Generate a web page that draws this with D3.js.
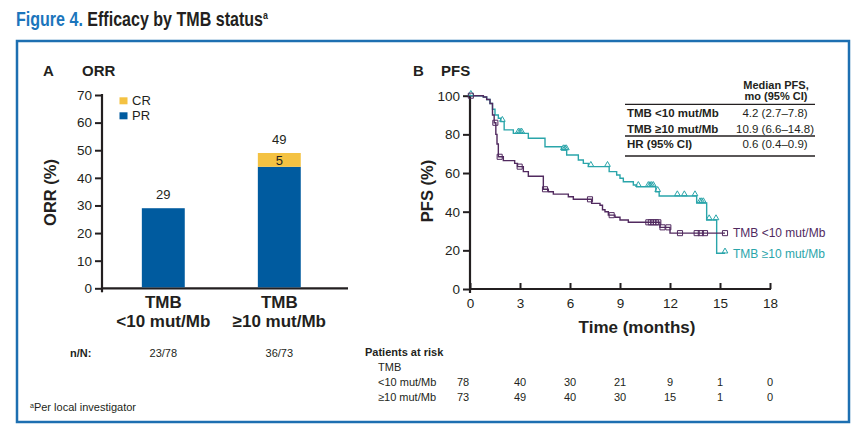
<!DOCTYPE html>
<html><head><meta charset="utf-8">
<script src="https://cdn.jsdelivr.net/npm/d3@7"></script>
<style>
body{margin:0;background:#fff;}
svg{display:block;font-family:"Liberation Sans",Arial,Helvetica,sans-serif;}
</style></head><body>
<svg id="c" width="865" height="442"></svg>
<script>
// ---------- Panel A data ----------
const orrCategories = ["<10 mut/Mb", "\u226510 mut/Mb"];
const orrPR = [29, 44];
const orrCR = [0, 5];
const orrTotals = [29, 49];
const orrNN = ["23/78", "36/73"];
const orrTicks = [0, 10, 20, 30, 40, 50, 60, 70];

// ---------- Panel B data ----------
const pfsTicksX = [0, 3, 6, 9, 12, 15, 18];
const pfsTicksY = [0, 20, 40, 60, 80, 100];
// step points [month, PFS %] : value after each step
const lowSteps = [[0,100],[0.8,99.3],[1.0,98],[1.2,96],[1.35,90],[1.45,86],[1.55,80],[1.62,75],[1.7,68.4],[2.0,66.4],[2.68,65],[2.85,63.3],[3.2,60.7],[3.5,58.3],[4.4,51.6],[4.7,50.3],[5.0,49.1],[5.9,47.7],[6.2,46.4],[7.3,44.3],[7.8,43.3],[7.95,41],[8.1,40],[8.3,38.2],[8.7,37.1],[9.0,35.7],[9.5,34.5],[11.4,31.9],[12.0,28.9]];
const lowEnd = 15.3;
const lowCensor = [[0.05,100],[1.52,86],[1.78,68.4],[2.98,63.3],[4.5,51.6],[7.2,46.4],[8.5,38.2],[10.7,34.5],[10.85,34.5],[11.0,34.5],[11.15,34.5],[11.3,34.5],[11.55,31.9],[11.9,31.9],[12.6,28.9],[13.6,28.9],[13.85,28.9],[14.1,28.9],[15.3,28.9]];
const highSteps = [[0,100],[0.8,99.3],[1.0,98],[1.2,96],[1.35,93],[1.5,90],[1.7,88.3],[1.85,86.6],[2.05,82.3],[2.6,80.5],[3.5,78],[4.5,73.6],[5.5,71.9],[5.8,69.3],[6.5,66.7],[6.8,65],[7.1,63.3],[8.35,60.7],[8.8,59],[9.0,57.3],[9.2,55.5],[9.8,53.8],[10.0,52.9],[11.15,50.3],[11.35,48.1],[13.6,44.5],[14.2,35.7],[14.8,18.5]];
const highEnd = 15.3;
const highCensor = [[0.05,100],[1.94,86.6],[2.9,80.5],[3.0,80.5],[3.1,80.5],[5.6,71.9],[5.7,71.9],[5.78,71.9],[7.25,63.3],[8.25,63.3],[10.1,52.9],[10.7,52.9],[10.8,52.9],[10.9,52.9],[11.0,52.9],[11.26,50.3],[12.44,48.1],[12.86,48.1],[13.5,48.1],[13.8,44.5],[13.9,44.5],[14.0,44.5],[14.35,35.7],[14.76,35.7],[15.3,18.5]];
const riskTimes = [0, 3, 6, 9, 12, 15, 18];
const riskLow = [78, 40, 30, 21, 9, 1, 0];
const riskHigh = [73, 49, 40, 30, 15, 1, 0];
const medianRows = ["TMB <10 mut/Mb", "TMB \u226510 mut/Mb", "HR (95% CI)"];
const medianVals = ["4.2 (2.7\u20137.8)", "10.9 (6.6\u201314.8)", "0.6 (0.4\u20130.9)"];

// ---------- styles ----------
const INK = "#231f20", BLUE = "#005b9f", GOLD = "#f4c242", FRAME = "#1d6fb1";
const PURPLE = "#512a5f", TEAL = "#2aa5aa";

const svg = d3.select("#c");

// Title (horizontally condensed with a scale transform)
const titleG = svg.append("g");
const title = titleG.append("text").attr("x", 0).attr("y", 0)
  .style("font-family", "'Liberation Sans Narrow','Arial Narrow','Liberation Sans',sans-serif")
  .style("font-weight", "bold").style("font-size", "20px");
title.append("tspan").attr("fill", "#1b75bc").text("Figure 4. ");
title.append("tspan").attr("fill", INK).text("Efficacy by TMB status");
title.append("tspan").attr("fill", INK).attr("dy", -7).style("font-size", "11px").text("a");
const tw = title.node().getComputedTextLength();
const sx = tw > 253 ? 252 / tw : 1;
titleG.attr("transform", `translate(16,26) scale(${sx},1)`);

// Frame
svg.append("rect").attr("x", 17).attr("y", 41).attr("width", 832).attr("height", 381)
  .attr("fill", "none").attr("stroke", FRAME).attr("stroke-width", 2.5);

// Panel headers
const hdr = (x, t) => svg.append("text").attr("x", x).attr("y", 76).attr("fill", INK)
  .style("font-weight", "bold").style("font-size", "15px").text(t);
hdr(43, "A"); hdr(82, "ORR"); hdr(413, "B"); hdr(441, "PFS");

// ---------- Panel A ----------
const yA = d3.scaleLinear().domain([0, 70]).range([288.3, 95]);
const xA = d3.scaleBand().domain(orrCategories).range([105.3, 337.3]).paddingInner(0.63).paddingOuter(0.315);

const gA = svg.append("g");
const yAxisA = gA.append("g").attr("transform", "translate(102,0)")
  .call(d3.axisLeft(yA).tickValues(orrTicks).tickSize(7).tickSizeOuter(0).tickPadding(3));
yAxisA.select(".domain").attr("stroke", INK).attr("stroke-width", 2.2).attr("d", `M0,${yA(70)-1}V${yA(0)+4}`);
yAxisA.selectAll(".tick line").attr("stroke", INK).attr("stroke-width", 2);
yAxisA.selectAll(".tick text").attr("fill", INK).style("font-size", "13.5px").style("font-family", "'Liberation Sans',Arial,sans-serif");

gA.append("line").attr("x1", 101).attr("x2", 348).attr("y1", yA(0)).attr("y2", yA(0))
  .attr("stroke", INK).attr("stroke-width", 2.2);

gA.selectAll("rect.pr").data(orrCategories).join("rect").attr("class", "pr")
  .attr("x", d => xA(d)).attr("width", xA.bandwidth())
  .attr("y", (d, i) => yA(orrPR[i])).attr("height", (d, i) => yA(0) - yA(orrPR[i]) - 1)
  .attr("fill", BLUE);
gA.selectAll("rect.cr").data(orrCategories).join("rect").attr("class", "cr")
  .attr("x", d => xA(d)).attr("width", xA.bandwidth())
  .attr("y", (d, i) => yA(orrPR[i] + orrCR[i])).attr("height", (d, i) => yA(orrPR[i]) - yA(orrPR[i] + orrCR[i]))
  .attr("fill", GOLD);
gA.selectAll("text.tot").data(orrCategories).join("text").attr("class", "tot")
  .attr("x", d => xA(d) + xA.bandwidth() / 2).attr("y", (d, i) => yA(orrTotals[i]) - 9)
  .attr("text-anchor", "middle").attr("fill", INK).style("font-size", "13px").text((d, i) => orrTotals[i]);
gA.selectAll("text.crv").data(orrCategories.filter((d, i) => orrCR[i] > 0)).join("text").attr("class", "crv")
  .attr("x", d => xA(d) + xA.bandwidth() / 2)
  .attr("y", d => { const i = orrCategories.indexOf(d); return yA(orrPR[i] + orrCR[i] / 2) + 5; })
  .attr("text-anchor", "middle").attr("fill", INK).style("font-size", "13px")
  .text(d => orrCR[orrCategories.indexOf(d)]);

// category labels
orrCategories.forEach(c => {
  const cx = xA(c) + xA.bandwidth() / 2;
  gA.append("text").attr("x", cx).attr("y", 308).attr("text-anchor", "middle").attr("fill", INK)
    .style("font-weight", "bold").style("font-size", "17px").text("TMB");
  gA.append("text").attr("x", cx).attr("y", 327).attr("text-anchor", "middle").attr("fill", INK)
    .style("font-weight", "bold").style("font-size", "17px").text(c);
});
// y title
gA.append("text").attr("transform", "translate(56,192.5) rotate(-90)").attr("text-anchor", "middle")
  .attr("fill", INK).style("font-weight", "bold").style("font-size", "16.5px").text("ORR (%)");
// legend
const legA = [["CR", GOLD], ["PR", BLUE]];
legA.forEach((l, i) => {
  gA.append("rect").attr("x", 119.5).attr("y", 97.3 + i * 15).attr("width", 8).attr("height", 7).attr("fill", l[1]);
  gA.append("text").attr("x", 132).attr("y", 104.5 + i * 15).attr("fill", INK).style("font-size", "13px").text(l[0]);
});
// n/N
gA.append("text").attr("x", 70).attr("y", 356.5).attr("fill", INK).style("font-weight", "bold").style("font-size", "11px").text("n/N:");
gA.selectAll("text.nn").data(orrCategories).join("text").attr("class", "nn")
  .attr("x", d => xA(d) + xA.bandwidth() / 2).attr("y", 356.5).attr("text-anchor", "middle")
  .attr("fill", INK).style("font-size", "11px").text((d, i) => orrNN[i]);
// footnote
const fn = svg.append("text").attr("x", 30).attr("y", 411).attr("fill", INK)
  .style("font-family", "'Liberation Sans Narrow','Arial Narrow','Liberation Sans',sans-serif").style("font-size", "11px");
fn.append("tspan").attr("dy", -3).style("font-size", "7px").text("a");
fn.append("tspan").attr("dy", 3).text("Per local investigator");

// ---------- Panel B ----------
const xB = d3.scaleLinear().domain([0, 18]).range([470, 770]);
const yB = d3.scaleLinear().domain([0, 100]).range([289, 95.7]);
const gB = svg.append("g");

const yAxisB = gB.append("g").attr("transform", "translate(470,0)")
  .call(d3.axisLeft(yB).tickValues(pfsTicksY).tickSize(7).tickSizeOuter(0).tickPadding(3));
yAxisB.select(".domain").attr("stroke", INK).attr("stroke-width", 2.2).attr("d", `M0,${yB(100)-1}V${yB(0)+4}`);
yAxisB.selectAll(".tick line").attr("stroke", INK).attr("stroke-width", 2);
yAxisB.selectAll(".tick text").attr("fill", INK).style("font-size", "13.5px").style("font-family", "'Liberation Sans',Arial,sans-serif");

const xAxisB = gB.append("g").attr("transform", `translate(0,${yB(0)})`)
  .call(d3.axisBottom(xB).tickValues(pfsTicksX).tickSize(-6).tickSizeOuter(0).tickPadding(9));
xAxisB.select(".domain").attr("stroke", INK).attr("stroke-width", 2.2).attr("d", `M469,0H771`);
xAxisB.selectAll(".tick line").attr("stroke", INK).attr("stroke-width", 2);
xAxisB.selectAll(".tick text").attr("fill", INK).style("font-size", "13.5px").style("font-family", "'Liberation Sans',Arial,sans-serif");

gB.append("text").attr("x", 637).attr("y", 333).attr("text-anchor", "middle").attr("fill", INK)
  .style("font-weight", "bold").style("font-size", "17px").text("Time (months)");
gB.append("text").attr("transform", "translate(433,191) rotate(-90)").attr("text-anchor", "middle")
  .attr("fill", INK).style("font-weight", "bold").style("font-size", "16.5px").text("PFS (%)");

const stepLine = d3.line().x(d => xB(d[0])).y(d => yB(d[1])).curve(d3.curveStepAfter);
function drawCurve(steps, end, color) {
  const pts = steps.concat([[end, steps[steps.length - 1][1]]]);
  gB.append("path").attr("d", stepLine(pts)).attr("fill", "none").attr("stroke", color).attr("stroke-width", 1.4);
}
drawCurve(highSteps, highEnd, TEAL);
drawCurve(lowSteps, lowEnd, PURPLE);

const sq = d3.symbol().type(d3.symbolSquare).size(26);
const tri = d3.symbol().type(d3.symbolTriangle).size(14);
gB.selectAll("path.ch").data(highCensor).join("path").attr("class", "ch")
  .attr("transform", d => `translate(${xB(d[0])},${yB(d[1]) - 1.9})`).attr("d", tri)
  .attr("fill", "none").attr("stroke", TEAL).attr("stroke-width", 1);
gB.selectAll("path.cl").data(lowCensor).join("path").attr("class", "cl")
  .attr("transform", d => `translate(${xB(d[0])},${yB(d[1])})`).attr("d", sq)
  .attr("fill", "none").attr("stroke", PURPLE).attr("stroke-width", 1);

// curve labels
gB.append("text").attr("x", 733).attr("y", 237).attr("fill", PURPLE).style("font-size", "12px").text("TMB <10 mut/Mb");
gB.append("text").attr("x", 733).attr("y", 257.5).attr("fill", TEAL).style("font-size", "12px").text("TMB \u226510 mut/Mb");

// Median table
const gT = svg.append("g").attr("fill", INK);
gT.append("text").attr("x", 776).attr("y", 89).attr("text-anchor", "middle").style("font-weight", "bold").style("font-size", "11px").text("Median PFS,");
gT.append("text").attr("x", 776).attr("y", 99.8).attr("text-anchor", "middle").style("font-weight", "bold").style("font-size", "11px").text("mo (95% CI)");
[104.3, 136, 156].forEach(y => gT.append("line").attr("x1", 625).attr("x2", 815).attr("y1", y).attr("y2", y).attr("stroke", INK).attr("stroke-width", 1.3));
const rowY = [116.7, 132.5, 148.3];
medianRows.forEach((r, i) => {
  gT.append("text").attr("x", 627).attr("y", rowY[i]).style("font-weight", "bold").style("font-size", "11.5px").text(r);
  gT.append("text").attr("x", 775).attr("y", rowY[i]).attr("text-anchor", "middle").style("font-size", "11.5px").text(medianVals[i]);
});

// Patients at risk
const gR = svg.append("g").attr("fill", INK).style("font-size", "11px");
gR.append("text").attr("x", 365).attr("y", 356).style("font-weight", "bold").text("Patients at risk");
gR.append("text").attr("x", 378).attr("y", 371).text("TMB");
gR.append("text").attr("x", 378).attr("y", 386).text("<10 mut/Mb");
gR.append("text").attr("x", 378).attr("y", 401).text("\u226510 mut/Mb");
[[riskLow, 386], [riskHigh, 401]].forEach(([arr, y]) => {
  gR.selectAll(null).data(riskTimes).join("text")
    .attr("x", (d, i) => xB(d) - (i === 0 ? 7 : 0)).attr("y", y).attr("text-anchor", "middle")
    .text((d, i) => arr[i]);
});
</script>
</body></html>
